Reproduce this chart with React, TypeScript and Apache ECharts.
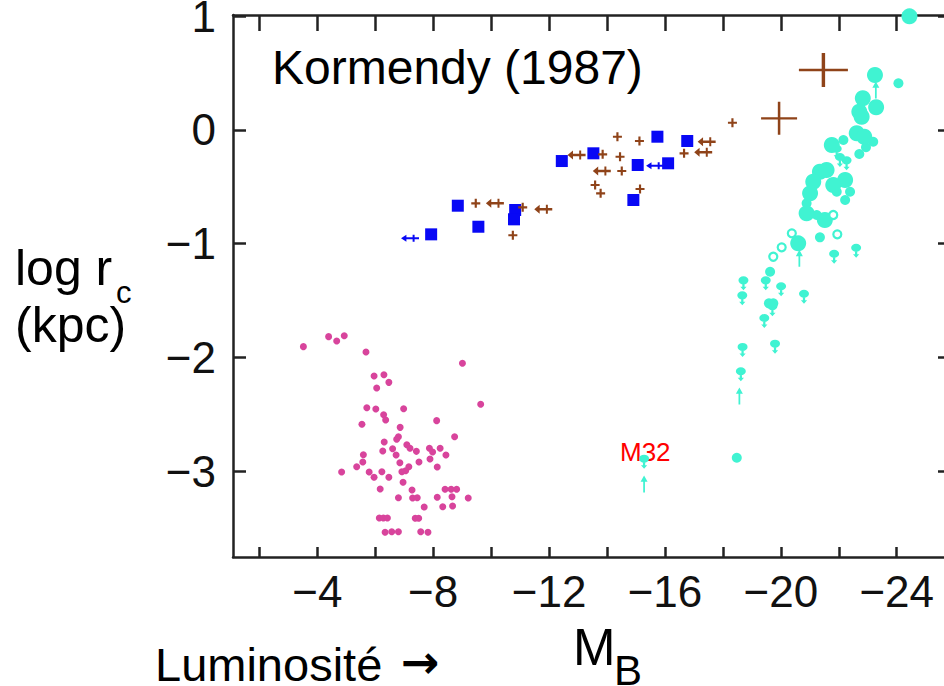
import React, { useEffect, useRef } from "react";
import * as echarts from "echarts";

// ---- axis ticks / labels ----
const xTickValues = [-2, -4, -6, -8, -10, -12, -14, -16, -18, -20, -22, -24];
const xLabelValues = [-4, -8, -12, -16, -20, -24];
const yTickValues = [1, 0, -1, -2, -3];

// ---- data: [M_B, log r_c] ----
const globularClusters: number[][] = [
  [-3.52, -1.906], [-4.39, -1.818], [-4.67, -1.856], [-4.93, -1.81], [-5.68, -1.953],
  [-9.01, -2.052], [-5.96, -2.164], [-6.3, -2.153], [-6.47, -2.22], [-6.05, -2.27],
  [-9.64, -2.413], [-5.71, -2.443], [-6.02, -2.454], [-6.98, -2.452], [-6.29, -2.505],
  [-6.36, -2.551], [-5.54, -2.589], [-8.12, -2.557], [-6.86, -2.616], [-6.8, -2.698],
  [-6.74, -2.721], [-8.74, -2.698], [-6.31, -2.745], [-7.09, -2.769], [-7.2, -2.8],
  [-6.6, -2.804], [-6.26, -2.824], [-7.42, -2.827], [-7.87, -2.8], [-7.98, -2.833],
  [-8.24, -2.8], [-5.59, -2.857], [-6.72, -2.859], [-8.44, -2.859], [-7.89, -2.894],
  [-5.57, -2.921], [-7.51, -2.921], [-6.85, -2.927], [-5.36, -2.962], [-7.16, -2.962],
  [-8.14, -2.965], [-7.05, -2.997], [-6.92, -3.006], [-4.84, -3.009], [-5.79, -3.009],
  [-6.23, -3.006], [-5.96, -3.055], [-6.47, -3.055], [-6.96, -3.099], [-6.17, -3.158],
  [-7.27, -3.167], [-8.41, -3.161], [-8.62, -3.161], [-8.81, -3.161], [-6.8, -3.235],
  [-7.29, -3.237], [-7.45, -3.235], [-8.14, -3.231], [-8.65, -3.226], [-9.21, -3.237],
  [-7.69, -3.317], [-8.33, -3.314], [-8.67, -3.308], [-6.14, -3.413], [-6.28, -3.413],
  [-6.42, -3.413], [-7.38, -3.416], [-7.5, -3.416], [-6.34, -3.539], [-6.57, -3.534],
  [-6.8, -3.534], [-7.57, -3.534], [-7.82, -3.539],
];

const blueSquares: number[][] = [
  [-8.85, -0.666], [-9.56, -0.851], [-7.93, -0.918], [-10.83, -0.704], [-10.79, -0.786],
  [-12.44, -0.273], [-13.53, -0.205], [-15.74, -0.059], [-16.77, -0.097], [-15.06, -0.308],
  [-16.11, -0.293], [-14.91, -0.616],
];
const blueArrows: number[][] = [[-7.2, -0.953], [-15.66, -0.314]];

const brownCrosses: number[][] = [
  [-9.47, -0.645], [-11.09, -0.68], [-10.75, -0.926], [-13.85, -0.214], [-14.36, -0.059],
  [-15.12, -0.097], [-14.45, -0.235], [-14.51, -0.361], [-13.59, -0.484], [-13.78, -0.557],
  [-15.14, -0.519], [-16.66, -0.205], [-18.33, 0.064],
];
const brownArrowCrosses: number[][] = [
  [-10.13, -0.645], [-11.8, -0.698], [-12.95, -0.22], [-13.82, -0.361], [-17.44, -0.103], [-17.32, -0.196],
];
const brownBigCrosses: number[][] = [[-19.94, 0.103], [-21.47, 0.528]];

const cyanLarge: number[][] = [
  [-23.25, 0.484], [-22.83, 0.279], [-23.29, 0.2], [-22.71, 0.161], [-22.79, 0.117],
  [-22.62, -0.029], [-22.88, -0.059], [-21.76, -0.132], [-21.35, -0.367], [-21.58, -0.352],
  [-22.22, -0.44], [-21.81, -0.484], [-21.12, -0.455], [-21.01, -0.557], [-20.89, -0.733],
  [-21.52, -0.792], [-20.6, -0.997], [-24.44, 1.0],
];
const cyanMedium: number[][] = [
  [-24.06, 0.411], [-23.19, -0.103], [-22.94, -0.152], [-22.71, -0.211], [-22.16, -0.088],
  [-21.93, -0.543], [-22.39, -0.543], [-22.22, -0.616], [-20.89, -0.645], [-21.24, -0.748],
  [-21.35, -0.944], [-19.63, -1.247], [-19.59, -1.525], [-19.74, -1.525], [-18.48, -2.883],
];
const cyanHollow: number[][] = [
  [-21.81, -0.748], [-21.95, -0.918], [-20.38, -0.909], [-20.03, -1.032], [-19.74, -1.115],
];
const cyanLimitDown: number[][] = [
  [-21.93, -0.191], [-22.27, -0.293], [-22.04, -0.264], [-21.84, -1.115], [-22.6, -1.062],
  [-18.71, -1.349], [-19.48, -1.349], [-20.01, -1.401], [-20.8, -1.467], [-18.67, -1.481],
  [-19.71, -1.577], [-19.43, -1.68], [-19.8, -1.906], [-18.68, -1.935], [-18.62, -2.149],
  [-15.28, -2.918],
];
const cyanLimitUp: number[][] = [[-23.28, 0.352], [-20.64, -1.129], [-18.57, -2.34], [-15.28, -3.114]];

const titleText = "Kormendy (1987)";
const m32Text = "M32";

// ---- styling ----
const FONT = "'Liberation Sans', Arial, Helvetica, sans-serif";
const MAGENTA = "#d8449c";
const BLUE = "#0808f5";
const BROWN = "#8f4319";
const CYAN = "#40f3d2";
const AXIS = "#222";

const PLUS = "path://M0,3.8H10V6.2H0Z M3.8,0H6.2V10H3.8Z";
const BIG_PLUS = "path://M0,46.5H100V53.5H0Z M46.5,0H53.5V100H46.5Z";
const ARROW_PLUS = "path://M0,5L6,1V9Z M5,3.9H20V6.1H5Z M12.9,1H15.1V9H12.9Z";
const PIN = "path://M1,4A4,4,0,1,1,9,4A4,4,0,1,1,1,4Z M4.1,7H5.9V11H4.1Z M2.5,10.5H7.5L5,14Z";
const UP = "path://M4,0L8,6H5V16H3V6H0Z";

const X_MIN = -25.84;
const X_MAX = -1.09;
const Y_MIN = -3.7565;
const Y_MAX = 1.0117;

const fmt = (v: number) => (v < 0 ? "\u2212" + Math.abs(v) : String(v));

export default function App() {
  const ref = useRef<HTMLDivElement>(null);
  useEffect(() => {
    if (!ref.current) return;
    const chart = echarts.init(ref.current, undefined, { renderer: "svg" });
    const axisLine = { show: true, onZero: false, lineStyle: { color: AXIS, width: 2.5 } };
    const xBase = { type: "value", inverse: true, min: X_MIN, max: X_MAX, splitLine: { show: false } };
    const yBase = { type: "value", min: Y_MIN, max: Y_MAX, splitLine: { show: false } };
    const bigSizes = [[36, 33], [49, 34]];
    const sc = (data: any[], symbol: string, size: any, color: string, extra: any = {}) => ({
      type: "scatter",
      data,
      symbol,
      symbolSize: size,
      silent: true,
      itemStyle: { color, opacity: 1, ...extra },
    });
    const txt = (text: string, x: number, y: number, size: number, fill = "#000", family = FONT, weight = "normal") => ({
      type: "text",
      x,
      y,
      silent: true,
      style: {
        text,
        fill,
        fontSize: size,
        fontFamily: family,
        fontWeight: weight,
        align: "left",
        verticalAlign: "middle",
        textAlign: "left",
        textVerticalAlign: "middle",
      },
    });
    chart.setOption({
      animation: false,
      backgroundColor: "#fff",
      grid: { left: 233, top: 15, right: -6, bottom: 129, containLabel: false, outerBoundsMode: "none" },
      xAxis: [
        {
          ...xBase,
          position: "bottom",
          axisLine,
          axisTick: { show: true, inside: true, length: 10, lineStyle: { color: AXIS, width: 2.5 }, customValues: xTickValues },
          axisLabel: {
            show: true,
            customValues: xLabelValues,
            formatter: fmt,
            fontSize: 44,
            fontFamily: FONT,
            color: "#111",
            margin: 12,
          },
        },
        {
          ...xBase,
          position: "top",
          axisLine,
          axisTick: { show: true, inside: true, length: 16, lineStyle: { color: AXIS, width: 2.5 }, customValues: xTickValues },
          axisLabel: { show: false },
        },
      ],
      yAxis: [
        {
          ...yBase,
          position: "left",
          axisLine,
          axisTick: { show: true, inside: true, length: 13, lineStyle: { color: AXIS, width: 2.5 }, customValues: yTickValues },
          axisLabel: {
            show: true,
            customValues: yTickValues,
            formatter: fmt,
            fontSize: 44,
            fontFamily: FONT,
            color: "#111",
            margin: 17,
          },
        },
        {
          ...yBase,
          position: "right",
          axisLine,
          axisTick: { show: true, inside: true, length: 12, lineStyle: { color: AXIS, width: 2.5 }, customValues: yTickValues },
          axisLabel: { show: false },
        },
      ],
      series: [
        sc(globularClusters, "circle", 7, MAGENTA),
        sc(blueArrows, ARROW_PLUS, [18, 7], BLUE),
        sc(blueSquares, "rect", 12, BLUE),
        sc(brownCrosses, PLUS, 9, BROWN),
        sc(brownArrowCrosses, ARROW_PLUS, [18, 9], BROWN),
        sc(brownBigCrosses.map((v, i) => ({ value: v, symbolSize: bigSizes[i] })), BIG_PLUS, undefined, BROWN),
        sc(cyanLimitDown, PIN, [10, 14], CYAN),
        sc(cyanLimitUp, UP, [7, 17], CYAN),
        sc(cyanMedium, "circle", 10, CYAN),
        sc(cyanLarge, "circle", 16, CYAN),
        sc(cyanHollow, "circle", 8, "#fff", { borderColor: CYAN, borderWidth: 2.2 }),
      ],
      graphic: [
        txt(titleText, 272, 67, 48),
        txt("log r", 15, 268, 50),
        txt("c", 116, 292, 31),
        txt("(kpc)", 15, 325, 50),
        txt("Luminosit\u00e9", 155, 664, 47),
        txt("\u2192", 401, 662, 46, "#000", "'DejaVu Sans', sans-serif", "bold"),
        txt("M", 573, 647, 51),
        txt("B", 614, 670, 42),
        txt(m32Text, 620, 452, 26, "#ff0000"),
      ],
    });
    return () => chart.dispose();
  }, []);
  return (
    <div
      ref={ref}
      style={{ position: "fixed", left: 0, top: 0, width: 944, height: 686, overflow: "hidden", background: "#fff" }}
    />
  );
}
